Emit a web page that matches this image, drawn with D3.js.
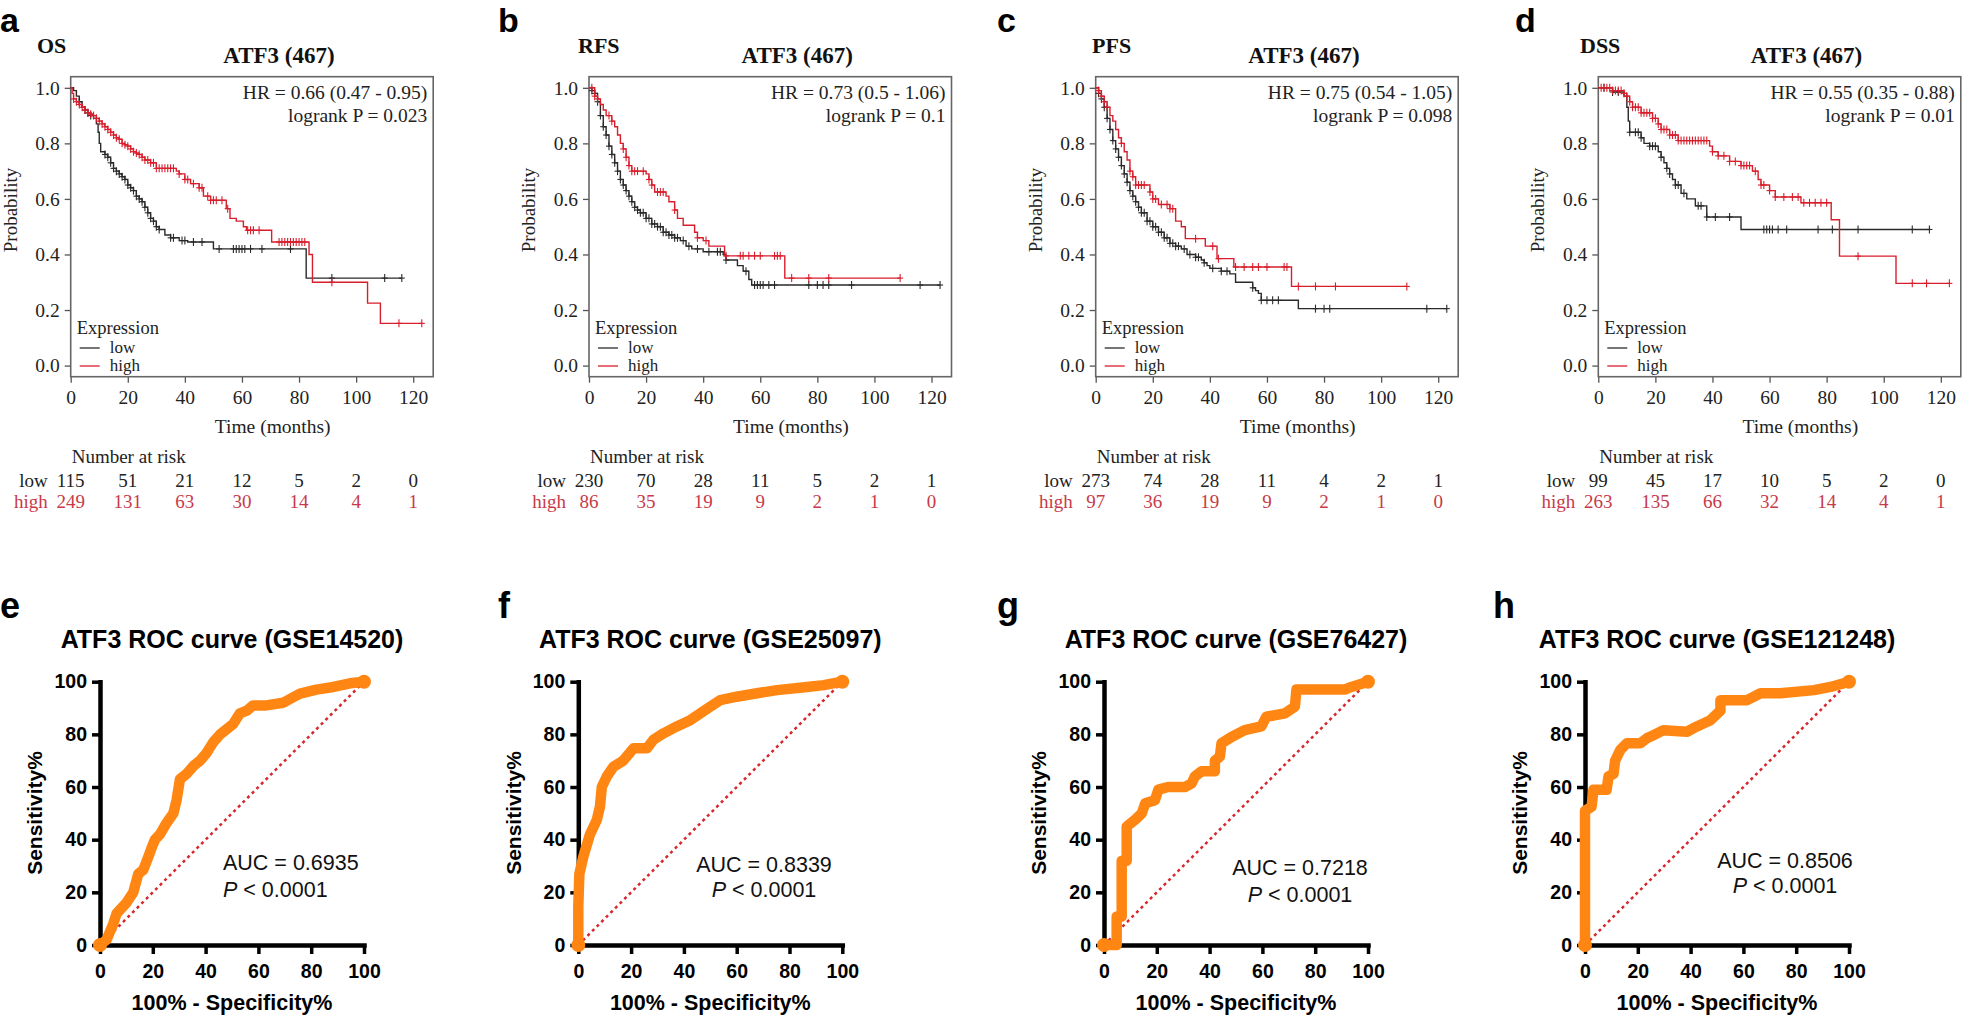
<!DOCTYPE html>
<html><head><meta charset="utf-8">
<script src="https://cdn.jsdelivr.net/npm/d3@7"></script>
<style>body{margin:0;background:#fff}</style>
</head><body><svg id="c" width="1968" height="1016" xmlns="http://www.w3.org/2000/svg"></svg>
<script>
// ---------------- DATA ----------------
const kmTicksX = [0, 20, 40, 60, 80, 100, 120];
const kmTicksY = [0, 0.2, 0.4, 0.6, 0.8, 1.0];
const kmLetters = ["a", "b", "c", "d"];
const kmTypes = ["OS", "RFS", "PFS", "DSS"];
const kmGene = "ATF3 (467)";
const kmHR = ["HR = 0.66 (0.47 - 0.95)", "HR = 0.73 (0.5 - 1.06)", "HR = 0.75 (0.54 - 1.05)", "HR = 0.55 (0.35 - 0.88)"];
const kmP = ["logrank P = 0.023", "logrank P = 0.1", "logrank P = 0.098", "logrank P = 0.01"];
const riskLow = [[115, 51, 21, 12, 5, 2, 0], [230, 70, 28, 11, 5, 2, 1], [273, 74, 28, 11, 4, 2, 1], [99, 45, 17, 10, 5, 2, 0]];
const riskHigh = [[249, 131, 63, 30, 14, 4, 1], [86, 35, 19, 9, 2, 1, 0], [97, 36, 19, 9, 2, 1, 0], [263, 135, 66, 32, 14, 4, 1]];

// OS
const osLowT = [0, 1, 2, 3, 4, 5, 6, 7, 8, 9, 9.6, 10, 10.5, 12, 13, 14, 15, 16, 17, 18, 19, 20, 21, 22, 23, 24, 25, 26, 27, 28, 29, 30, 31, 33, 35, 38, 41, 50, 82.5];
const osLowS = [1, 0.99, 0.97, 0.95, 0.93, 0.92, 0.91, 0.90, 0.89, 0.87, 0.84, 0.80, 0.77, 0.76, 0.75, 0.73, 0.71, 0.70, 0.69, 0.68, 0.67, 0.65, 0.64, 0.63, 0.61, 0.60, 0.59, 0.57, 0.55, 0.53, 0.52, 0.50, 0.49, 0.47, 0.46, 0.45, 0.445, 0.42, 0.315];
const osLowC = [3, 5, 6, 7, 12, 13, 14, 15, 16, 17, 18, 19, 20, 21, 22, 23, 24, 25, 26, 27, 28, 29, 30, 31, 35, 36, 39, 40, 43, 46, 52, 57, 58, 59, 60, 61, 63, 67, 77, 91.5, 110, 116];
const osHighT = [0, 0.5, 1, 2, 3, 4, 5, 6, 7, 8, 9, 10, 11, 12, 13, 14, 15, 16, 17, 18, 19, 20, 21, 22, 23, 24, 25, 26, 28, 30, 37, 38, 40, 42, 45, 46.5, 49, 54.5, 55.8, 58, 60.5, 61.6, 70.4, 83.5, 84.7, 104, 108.5];
const osHighS = [1, 0.98, 0.96, 0.95, 0.94, 0.93, 0.92, 0.91, 0.905, 0.90, 0.89, 0.88, 0.87, 0.86, 0.85, 0.84, 0.83, 0.82, 0.815, 0.80, 0.795, 0.79, 0.78, 0.77, 0.765, 0.76, 0.75, 0.74, 0.73, 0.71, 0.70, 0.69, 0.67, 0.655, 0.64, 0.61, 0.595, 0.565, 0.53, 0.52, 0.50, 0.487, 0.445, 0.40, 0.30, 0.225, 0.152];
const osHighC = [1, 2, 3, 4, 5, 6, 7, 8, 9, 10, 11, 12, 13, 14, 15, 16, 17, 18, 19, 20, 21, 22, 23, 24, 25, 26, 27, 28, 29, 30, 31, 32, 33, 34, 35, 36, 38, 40, 41, 43, 45, 46, 48, 49, 50, 51, 53, 55, 62, 63, 64, 66, 73, 74, 75, 76, 77, 78, 79, 80, 81, 82, 91.5, 115, 123];

// RFS
const rfsLowT = [0, 1, 2, 3, 4, 5, 6, 7, 8, 9, 10, 11, 12, 13, 14, 15, 16, 17, 18, 20, 22, 24, 26, 28, 30, 32, 34, 36, 40, 47, 48, 52, 54, 56, 57];
const rfsLowS = [1, 0.99, 0.98, 0.95, 0.90, 0.86, 0.83, 0.79, 0.76, 0.73, 0.70, 0.67, 0.65, 0.63, 0.61, 0.59, 0.57, 0.56, 0.55, 0.53, 0.51, 0.50, 0.48, 0.47, 0.46, 0.45, 0.43, 0.42, 0.41, 0.40, 0.38, 0.36, 0.34, 0.31, 0.29];
const rfsLowC = [1, 2, 3, 4, 5, 6, 7, 8, 9, 10, 11, 12, 13, 14, 15, 16, 17, 18, 19, 20, 21, 22, 23, 24, 25, 26, 27, 28, 29, 30, 31, 33, 35, 38, 42, 45, 46, 48, 55, 58, 59, 60, 61, 63, 65, 77, 80, 82, 84, 92, 116, 123];
const rfsHighT = [0, 2, 3, 4, 5, 6, 8, 9, 10, 11, 12, 13, 14, 15, 20, 21, 22, 23, 27, 28, 30, 31, 33, 37, 38, 40, 42, 47.5, 68.6];
const rfsHighS = [1, 0.97, 0.96, 0.94, 0.92, 0.90, 0.88, 0.86, 0.83, 0.80, 0.78, 0.75, 0.72, 0.70, 0.69, 0.67, 0.65, 0.625, 0.61, 0.59, 0.56, 0.53, 0.505, 0.48, 0.46, 0.45, 0.43, 0.395, 0.315];
const rfsHighC = [1, 2, 3, 7, 8, 12, 13, 14, 15, 16, 17, 19, 21, 22, 24, 25, 26, 30, 38, 41, 48, 53, 54, 56, 58, 60, 65, 66, 67, 71, 77, 84, 109];

// PFS
const pfsLowT = [0, 1, 2, 3, 4, 5, 6, 7, 8, 9, 10, 11, 12, 13, 14, 15, 16, 18, 20, 22, 24, 26, 28, 30, 32, 35, 37, 38, 39, 40, 44, 47, 49, 55, 56, 57, 58, 71];
const pfsLowS = [1, 0.98, 0.96, 0.93, 0.89, 0.85, 0.81, 0.78, 0.75, 0.72, 0.69, 0.66, 0.63, 0.61, 0.59, 0.57, 0.55, 0.52, 0.50, 0.48, 0.46, 0.44, 0.43, 0.42, 0.40, 0.39, 0.38, 0.37, 0.36, 0.35, 0.34, 0.33, 0.30, 0.28, 0.27, 0.26, 0.235, 0.205];
const pfsLowC = [1, 2, 3, 4, 5, 6, 7, 8, 9, 10, 11, 12, 13, 14, 15, 16, 17, 18, 19, 20, 21, 22, 23, 24, 25, 26, 27, 28, 29, 31, 33, 35, 36, 38, 41, 44, 46, 55, 58, 60, 62, 64, 77, 80, 82, 116, 123];
const pfsHighT = [0, 1, 2, 3, 4, 5, 6, 7, 8, 9, 10, 11, 12, 13, 14, 19, 20, 22, 26, 28, 30, 31.4, 38.4, 42.5, 48.4, 68.6];
const pfsHighS = [1, 0.99, 0.97, 0.95, 0.93, 0.90, 0.88, 0.85, 0.82, 0.80, 0.77, 0.74, 0.70, 0.68, 0.65, 0.625, 0.60, 0.58, 0.565, 0.52, 0.50, 0.457, 0.43, 0.385, 0.355, 0.285];
const pfsHighC = [1, 2, 3, 4, 9, 12, 13, 14, 15, 16, 17, 19, 20, 21, 23, 25, 26, 27, 35, 41, 43, 49, 52, 55, 57, 60, 66, 67, 71, 77, 84, 109];

// DSS
const dssLowT = [0, 5, 9, 10, 10.5, 11, 15, 16, 18, 21, 22, 23, 24, 25, 26, 27, 29, 31, 34, 38, 50];
const dssLowS = [1, 0.985, 0.97, 0.93, 0.88, 0.84, 0.82, 0.80, 0.79, 0.77, 0.75, 0.73, 0.71, 0.69, 0.67, 0.65, 0.62, 0.60, 0.575, 0.535, 0.49];
const dssLowC = [2, 5, 7, 11, 13, 14, 15, 18, 19, 20, 22, 24, 25, 27, 28, 30, 35, 36, 38, 41, 46, 58, 59, 60, 61, 63, 66, 77, 82, 91, 110, 116];
const dssHighT = [0, 5, 9, 10, 11, 12, 15, 19, 21, 22, 25, 28, 39, 40, 42, 46, 50, 54, 56, 57, 60, 62, 71, 81.6, 84.5, 104.3];
const dssHighS = [1, 0.99, 0.98, 0.97, 0.95, 0.93, 0.91, 0.89, 0.87, 0.85, 0.83, 0.81, 0.79, 0.77, 0.755, 0.735, 0.72, 0.70, 0.67, 0.65, 0.63, 0.607, 0.586, 0.525, 0.394, 0.296];
const dssHighC = [1, 2, 3, 4, 5, 6, 7, 8, 9, 10, 11, 12, 13, 14, 15, 16, 17, 18, 19, 20, 21, 22, 23, 24, 25, 26, 27, 28, 29, 30, 31, 32, 33, 34, 35, 36, 37, 38, 40, 42, 44, 46, 48, 50, 51, 52, 53, 55, 57, 58, 60, 62, 65, 68, 70, 72, 74, 76, 78, 80, 91, 110, 115, 123];

// ROC
const rocTicks = [0, 20, 40, 60, 80, 100];
const rocLetters = ["e", "f", "g", "h"];
const rocTitles = ["ATF3 ROC curve (GSE14520)", "ATF3 ROC curve (GSE25097)", "ATF3 ROC curve (GSE76427)", "ATF3 ROC curve (GSE121248)"];
const rocAUC = ["AUC = 0.6935", "AUC = 0.8339", "AUC = 0.7218", "AUC = 0.8506"];
const rocEx = [0, 2.5, 5, 6.3, 10, 12.6, 14.5, 16.4, 18.3, 19.6, 20.8, 22.7, 25, 27.8, 29, 30.3, 32.8, 35.4, 37.9, 40.4, 42.9, 45.5, 48, 50.5, 53, 55.6, 58, 63, 69.4, 73, 75.8, 82, 88.4, 94.7, 100];
const rocEy = [0, 2, 8, 12, 16, 20, 27, 28.5, 33.5, 37, 40, 42, 46, 50, 55, 63, 65, 68, 70, 73, 77, 80, 82, 84, 88, 89, 91, 91, 92, 94, 95.5, 97, 98, 99.4, 100];
const rocFx = [0, 0, 0.4, 1.9, 4.4, 7, 8.2, 8.9, 10.8, 13.3, 17, 20.9, 26, 28.5, 32.3, 37.3, 42.4, 46.2, 50, 53.8, 60, 67.7, 75.3, 86.7, 93, 100];
const rocFy = [0, 14.6, 27, 33.5, 42, 47.5, 52.5, 60, 64, 67.7, 70, 74.7, 74.7, 78, 80.4, 83, 85.4, 88, 90.5, 93, 94.3, 95.6, 96.8, 98, 98.7, 100];
const rocGx = [0, 4.8, 4.8, 6.7, 6.7, 8.6, 8.6, 11.7, 14.3, 15.6, 19.3, 20.6, 24.3, 30.6, 33.2, 34.4, 37, 42, 42, 43.9, 44.5, 48.3, 53.3, 59.6, 61.5, 68.5, 72.3, 72.9, 91.2, 93.7, 100];
const rocGy = [0, 0, 10.8, 10.8, 32, 32, 45, 47.5, 50, 53.8, 55, 59, 60, 60, 61.4, 64, 66, 66, 70, 71.5, 76.6, 79, 81.6, 83, 86.7, 88, 90.5, 97, 97, 98, 100];
const rocHx = [0, 0, 2.5, 3.2, 8.2, 8.9, 10.8, 11.4, 13.3, 15.8, 20.9, 23.4, 25.9, 29.7, 38.6, 42.4, 47.5, 51.3, 51.3, 61.4, 66.5, 74, 86.7, 93, 100];
const rocHy = [0, 51, 52.5, 59, 59, 64, 65, 70, 74, 76.6, 76.6, 78.5, 79.7, 81.6, 81, 83, 85.4, 89, 93, 93, 95.6, 95.6, 96.8, 98, 100];

// ---------------- LAYOUT ----------------
const serif = "'Liberation Serif','Times New Roman',serif";
const sans = "'Liberation Sans',Arial,sans-serif";
const cLow = "#2a2a2a", cHigh = "#d81e2c", cHighTxt = "#c83a48", cRoc = "#ff8612";
const kmBoxX = [70.7, 589, 1095.7, 1598.3];
const kmTitleX = [37, 578, 1092, 1580];
const kmLetterX = [0, 498, 997, 1515];
const rocAxisX = [100, 578.3, 1104, 1585];
const rocLetterX = [0, 498, 997, 1493];
const rocTextX = [223, 764, 1300, 1785];
const rocTextAnchor = ["start", "middle", "middle", "middle"];
const rocTextY = [[870, 897], [872, 897], [875, 902], [868, 893]];

const svg = d3.select("#c");
svg.append("rect").attr("width", 1968).attr("height", 1016).attr("fill", "#fff");

const kmData = [
  [osLowT, osLowS, osLowC, osHighT, osHighS, osHighC],
  [rfsLowT, rfsLowS, rfsLowC, rfsHighT, rfsHighS, rfsHighC],
  [pfsLowT, pfsLowS, pfsLowC, pfsHighT, pfsHighS, pfsHighC],
  [dssLowT, dssLowS, dssLowC, dssHighT, dssHighS, dssHighC]
];

function stepAt(t, T, S) {
  let v = S[0];
  for (let i = 0; i < T.length; i++) { if (T[i] <= t) v = S[i]; else break; }
  return v;
}

const boxTop = 76.7, boxBot = 376.7, boxW = 362.5;

kmData.forEach((d, i) => {
  const x0 = kmBoxX[i];
  const x = d3.scaleLinear().domain([0, 127]).range([x0, x0 + boxW]);
  const y = d3.scaleLinear().domain([-0.04, 1.04]).range([boxBot, boxTop]);
  const g = svg.append("g");

  svg.append("text").attr("x", kmLetterX[i]).attr("y", 32).text(kmLetters[i])
    .attr("font-family", sans).attr("font-weight", "bold").attr("font-size", 34).attr("fill", "#000");
  g.append("text").attr("x", kmTitleX[i]).attr("y", 52.7).text(kmTypes[i])
    .attr("font-family", serif).attr("font-weight", "bold").attr("font-size", 22).attr("fill", "#111");
  g.append("text").attr("x", x0 + boxW / 2 + 27).attr("y", 63.3).attr("text-anchor", "middle").text(kmGene)
    .attr("font-family", serif).attr("font-weight", "bold").attr("font-size", 23).attr("fill", "#111");

  const ax = g.append("g").attr("transform", `translate(0,${boxBot})`)
    .call(d3.axisBottom(x).tickValues(kmTicksX).tickSize(6).tickPadding(7).tickFormat(d3.format("d")));
  ax.select(".domain").remove();
  const ay = g.append("g").attr("transform", `translate(${x0},0)`)
    .call(d3.axisLeft(y).tickValues(kmTicksY).tickSize(6).tickPadding(5).tickFormat(d3.format(".1f")));
  ay.select(".domain").remove();
  [ax, ay].forEach(a => {
    a.selectAll("line").attr("stroke", "#555").attr("stroke-width", 1.3);
    a.selectAll("text").attr("font-family", serif).attr("font-size", 19.5).attr("fill", "#222");
  });
  g.append("rect").attr("x", x0).attr("y", boxTop).attr("width", boxW).attr("height", boxBot - boxTop)
    .attr("fill", "none").attr("stroke", "#666").attr("stroke-width", 1.6);

  g.append("text").attr("transform", `translate(${x0 - 60.7},210) rotate(-90)`).attr("text-anchor", "middle")
    .attr("dy", "0.35em").text("Probability").attr("font-family", serif).attr("font-size", 19).attr("fill", "#222");
  g.append("text").attr("x", x0 + 202).attr("y", 433).attr("text-anchor", "middle").text("Time (months)")
    .attr("font-family", serif).attr("font-size", 19.5).attr("fill", "#222");

  g.append("text").attr("x", x0 + boxW - 6).attr("y", 99).attr("text-anchor", "end").text(kmHR[i])
    .attr("font-family", serif).attr("font-size", 19.5).attr("fill", "#222");
  g.append("text").attr("x", x0 + boxW - 6).attr("y", 121.7).attr("text-anchor", "end").text(kmP[i])
    .attr("font-family", serif).attr("font-size", 19.5).attr("fill", "#222");

  // legend
  g.append("text").attr("x", x0 + 6).attr("y", 333.5).text("Expression").attr("font-family", serif).attr("font-size", 18.5).attr("fill", "#222");
  [["low", cLow, 348, 352.5], ["high", cHigh, 366, 371]].forEach(([lab, col, ly, ty]) => {
    g.append("line").attr("x1", x0 + 9).attr("x2", x0 + 29).attr("y1", ly).attr("y2", ly).attr("stroke", col).attr("stroke-width", 1.3);
    g.append("text").attr("x", x0 + 39).attr("y", ty).text(lab).attr("font-family", serif).attr("font-size", 17).attr("fill", "#222");
  });

  const line = d3.line().x(p => x(p[0])).y(p => y(p[1])).curve(d3.curveStepAfter);
  [[d[0], d[1], d[2], cLow], [d[3], d[4], d[5], cHigh]].forEach(([T, S, C, col]) => {
    const tEnd = Math.max(d3.max(C), d3.max(T));
    const pts = T.map((t, k) => [t, S[k]]);
    pts.push([tEnd, S[S.length - 1]]);
    g.append("path").attr("d", line(pts)).attr("fill", "none").attr("stroke", col).attr("stroke-width", 1.4);
    const cg = g.append("g").attr("stroke", col).attr("stroke-width", 1.1);
    C.forEach(t => {
      const cx = x(t), cy = y(stepAt(t, T, S));
      cg.append("line").attr("x1", cx).attr("x2", cx).attr("y1", cy - 4).attr("y2", cy + 4);
      cg.append("line").attr("x1", cx - 3).attr("x2", cx + 3).attr("y1", cy).attr("y2", cy);
    });
  });

  g.append("text").attr("x", x0 + 1).attr("y", 463).text("Number at risk").attr("font-family", serif).attr("font-size", 19).attr("fill", "#222");
  [["low", riskLow[i], "#222", 486.7], ["high", riskHigh[i], cHighTxt, 507.5]].forEach(([lab, vals, col, ry]) => {
    g.append("text").attr("x", x0 - 23).attr("y", ry).attr("text-anchor", "end").text(lab)
      .attr("font-family", serif).attr("font-size", 19).attr("fill", col);
    vals.forEach((v, k) => {
      g.append("text").attr("x", x(kmTicksX[k])).attr("y", ry).attr("text-anchor", "middle").text(v)
        .attr("font-family", serif).attr("font-size", 19).attr("fill", col);
    });
  });
});

// ---------------- ROC ----------------
const rocData = [[rocEx, rocEy], [rocFx, rocFy], [rocGx, rocGy], [rocHx, rocHy]];
const rocW = 264, rocBot = 945, rocTop = 681.7;
rocData.forEach((d, i) => {
  const x0 = rocAxisX[i];
  const x = d3.scaleLinear().domain([0, 100]).range([x0, x0 + rocW]);
  const y = d3.scaleLinear().domain([0, 100]).range([rocBot, rocTop]);
  const g = svg.append("g");

  svg.append("text").attr("x", rocLetterX[i]).attr("y", 618).text(rocLetters[i])
    .attr("font-family", sans).attr("font-weight", "bold").attr("font-size", 36).attr("fill", "#000");
  g.append("text").attr("x", x0 + rocW / 2).attr("y", 648).attr("text-anchor", "middle").text(rocTitles[i])
    .attr("font-family", sans).attr("font-weight", "bold").attr("font-size", 25).attr("fill", "#000");

  g.append("line").attr("x1", x(0)).attr("y1", y(0)).attr("x2", x(100)).attr("y2", y(100))
    .attr("stroke", "#d7262c").attr("stroke-width", 2.5).attr("stroke-dasharray", "3,3.5");

  const ax = g.append("g").attr("transform", `translate(0,${rocBot})`)
    .call(d3.axisBottom(x).tickValues(rocTicks).tickSize(9).tickSizeOuter(0).tickPadding(10));
  const ay = g.append("g").attr("transform", `translate(${x0},0)`)
    .call(d3.axisLeft(y).tickValues(rocTicks).tickSize(8).tickSizeOuter(0).tickPadding(5));
  [ax, ay].forEach(a => {
    a.select(".domain").attr("stroke", "#000").attr("stroke-width", 4.5).attr("stroke-linecap", "square");
    a.selectAll(".tick line").attr("stroke", "#000").attr("stroke-width", 3.5);
    a.selectAll("text").attr("font-family", sans).attr("font-weight", "bold").attr("font-size", 19.5).attr("fill", "#000");
  });

  const pts = d[0].map((v, k) => [v, d[1][k]]);
  const line = d3.line().x(p => x(p[0])).y(p => y(p[1]));
  g.append("path").attr("d", line(pts)).attr("fill", "none").attr("stroke", cRoc)
    .attr("stroke-width", 10.5).attr("stroke-linejoin", "round").attr("stroke-linecap", "round");
  [pts[0], pts[pts.length - 1]].forEach(p => {
    g.append("circle").attr("cx", x(p[0])).attr("cy", y(p[1])).attr("r", 7).attr("fill", cRoc);
  });

  g.append("text").attr("transform", `translate(${x0 - 65},813) rotate(-90)`).attr("text-anchor", "middle")
    .attr("dy", "0.35em").text("Sensitivity%").attr("font-family", sans).attr("font-weight", "bold").attr("font-size", 21).attr("fill", "#000");
  g.append("text").attr("x", x0 + rocW / 2).attr("y", 1010).attr("text-anchor", "middle").text("100% - Specificity%")
    .attr("font-family", sans).attr("font-weight", "bold").attr("font-size", 21.5).attr("fill", "#000");

  g.append("text").attr("x", rocTextX[i]).attr("y", rocTextY[i][0]).attr("text-anchor", rocTextAnchor[i]).text(rocAUC[i])
    .attr("font-family", sans).attr("font-size", 21.5).attr("fill", "#111");
  const pt = g.append("text").attr("x", rocTextX[i]).attr("y", rocTextY[i][1]).attr("text-anchor", rocTextAnchor[i])
    .attr("font-family", sans).attr("font-size", 21.5).attr("fill", "#111");
  pt.append("tspan").attr("font-style", "italic").text("P");
  pt.append("tspan").text(" < 0.0001");
});
</script></body></html>
